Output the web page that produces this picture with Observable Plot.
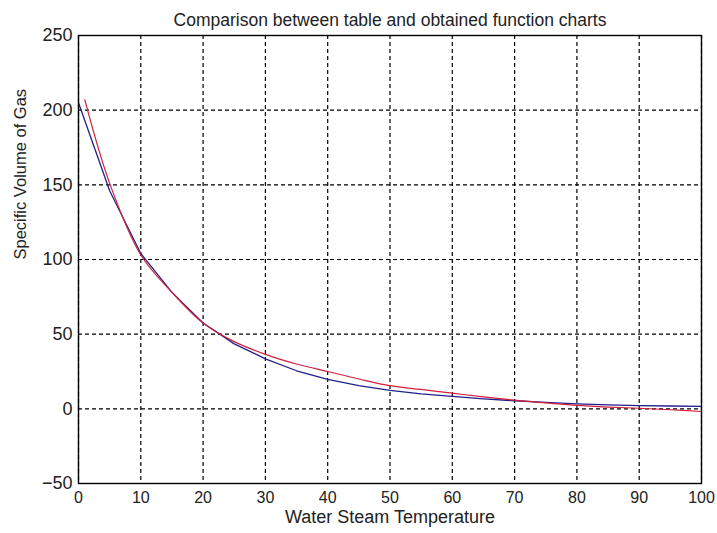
<!DOCTYPE html>
<html>
<head>
<meta charset="utf-8">
<script src="https://cdn.jsdelivr.net/npm/d3@7"></script>
<script src="https://cdn.jsdelivr.net/npm/@observablehq/plot@0.6"></script>
<style>
  html, body { margin: 0; padding: 0; background: #fff; }
</style>
</head>
<body>
<div id="chart"></div>
<script>
// ---- data ----
const chartTitle = "Comparison between table and obtained function charts";
const xLabel = "Water Steam Temperature";
const yLabel = "Specific Volume of Gas";

const xTicks = [0, 10, 20, 30, 40, 50, 60, 70, 80, 90, 100];
const yTicks = [-50, 0, 50, 100, 150, 200, 250];

// table values (blue)
const tableTemp   = [0, 5, 10, 15, 20, 25, 30, 35, 40, 45, 50, 55, 60, 65, 70, 75, 80, 85, 90, 95, 100];
const tableVolume = [205, 146, 104, 78, 57.5, 43.5, 33.5, 25.5, 19.8, 15.5, 12.3, 10, 8.4, 6.7, 5.4, 4.3, 3.3, 2.7, 2.2, 1.9, 1.7];

// obtained function values (red)
const funcTemp   = [1, 5, 10, 15, 20, 25, 30, 35, 40, 45, 50, 55, 60, 65, 70, 75, 80, 85, 90, 95, 100];
const funcVolume = [207, 151, 103, 78, 57.5, 45, 36.5, 30, 25, 20, 15.5, 13, 10.5, 8, 5.8, 4, 2.3, 1.2, 0.4, -0.6, -1.8];

const tableData = tableTemp.map((t, i) => ({t, v: tableVolume[i]}));
const funcData = funcTemp.map((t, i) => ({t, v: funcVolume[i]}));

const chart = Plot.plot({
  width: 717,
  height: 533,
  marginLeft: 78,
  marginRight: 16,
  marginTop: 35,
  marginBottom: 50,
  style: {
    fontFamily: "'Liberation Sans', Arial, sans-serif",
    fontSize: "16px",
    color: "#222",
    background: "#fff",
    overflow: "visible"
  },
  x: { domain: [0, 100] },
  y: { domain: [-50, 250] },
  marks: [
    Plot.gridX(xTicks, {stroke: "#000", strokeOpacity: 1, strokeDasharray: "4,3", strokeWidth: 1.2}),
    Plot.gridY(yTicks, {stroke: "#000", strokeOpacity: 1, strokeDasharray: "4,3", strokeWidth: 1.2}),
    Plot.line(tableData, {x: "t", y: "v", stroke: "#20208a", strokeWidth: 1.3}),
    Plot.line(funcData, {x: "t", y: "v", stroke: "#d0203a", strokeWidth: 1.2, curve: "catmull-rom"}),
    Plot.frame({stroke: "#000", strokeWidth: 1.4}),
    Plot.axisX(xTicks, {
      tickSize: 0, tickPadding: 8, fontSize: 16, fill: "#222", label: null
    }),
    Plot.axisY(yTicks, {
      tickSize: 0, tickPadding: 6, fontSize: 18, fill: "#222", label: null
    }),
    Plot.text([xLabel], {frameAnchor: "bottom", dy: 39, fontSize: 18, fill: "#222", text: d => d}),
    Plot.text([yLabel], {frameAnchor: "left", dx: -58, rotate: -90, fontSize: 16.5, fill: "#222", text: d => d}),
    Plot.text([chartTitle], {frameAnchor: "top", dy: -22, fontSize: 17.5, fill: "#222", text: d => d})
  ]
});

document.getElementById("chart").appendChild(chart);
</script>
</body>
</html>
